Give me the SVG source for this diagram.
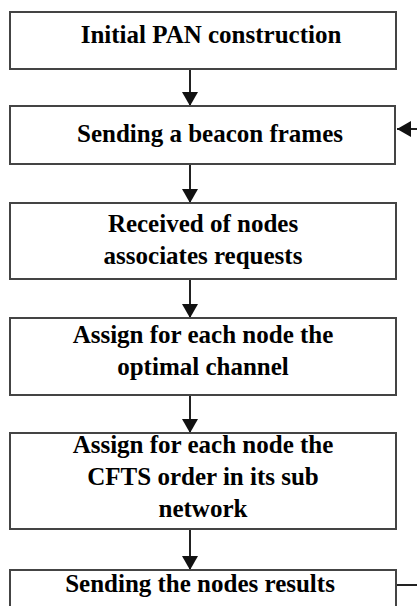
<svg xmlns="http://www.w3.org/2000/svg" width="417" height="606" viewBox="0 0 417 606">
<style>
.box{fill:#fff;stroke:#444;stroke-width:2}
.t{font-family:"Liberation Serif","Times New Roman",serif;font-weight:bold;font-size:25px;fill:#000;text-anchor:middle}
.c{fill:none;stroke:#222;stroke-width:2}
</style>
<defs>
<marker id="ah" markerUnits="userSpaceOnUse" markerWidth="16" markerHeight="16" refX="14" refY="8" orient="auto">
<path d="M0,0 L14,8 L0,16 Z" fill="#111"/>
</marker>
</defs>
<rect width="417" height="606" fill="#fff"/>
<g id="connectors">
<line class="c" x1="190" y1="69" x2="190" y2="106" marker-end="url(#ah)"/>
<line class="c" x1="190" y1="164" x2="190" y2="203" marker-end="url(#ah)"/>
<line class="c" x1="190" y1="279" x2="190" y2="318" marker-end="url(#ah)"/>
<line class="c" x1="190" y1="395" x2="190" y2="433" marker-end="url(#ah)"/>
<line class="c" x1="190" y1="529" x2="190" y2="570" marker-end="url(#ah)"/>
<path class="c" d="M396,585 H430 V129 H397" marker-end="url(#ah)"/>
</g>
<g id="n1"><rect class="box" x="10" y="12" width="386" height="57"/><text class="t" x="211" y="43">Initial PAN construction</text></g>
<g id="n2"><rect class="box" x="10" y="106" width="385" height="58"/><text class="t" x="210" y="142">Sending a beacon frames</text></g>
<g id="n3"><rect class="box" x="10" y="203" width="386" height="76"/><text class="t" x="203" y="232">Received of nodes</text><text class="t" x="203" y="264">associates requests</text></g>
<g id="n4"><rect class="box" x="10" y="318" width="386" height="77"/><text class="t" x="203" y="343">Assign for each node the</text><text class="t" x="203" y="375">optimal channel</text></g>
<g id="n5"><rect class="box" x="10" y="433" width="386" height="96"/><text class="t" x="203" y="453">Assign for each node the</text><text class="t" x="203" y="485">CFTS order in its sub</text><text class="t" x="203" y="517">network</text></g>
<g id="n6"><rect class="box" x="10" y="570" width="386" height="50"/><text class="t" x="200" y="592">Sending the nodes results</text></g>
</svg>
